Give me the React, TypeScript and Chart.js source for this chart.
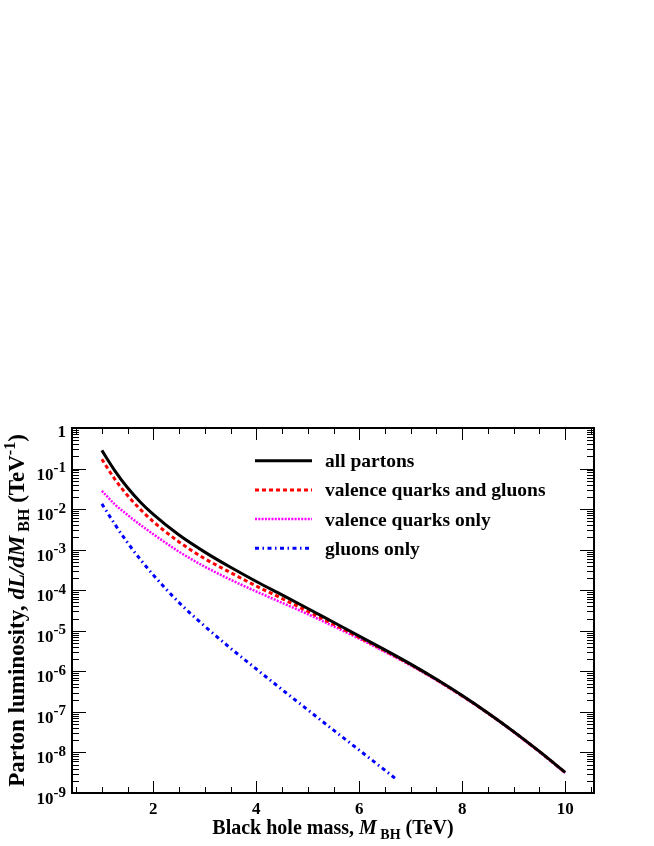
import React, { useEffect, useRef } from 'react';
import { Chart, registerables } from 'chart.js';

Chart.register(...registerables);

// ---- data ----
const massTeV = [1, 1.25, 1.5, 1.75, 2, 2.5, 3, 3.5, 4, 4.5, 5, 5.5, 6, 6.5, 7, 7.5, 8, 8.5, 9, 9.5, 10];
const allPartons = [0.28, 8.9e-2, 3.35e-2, 1.48e-2, 7.4e-3, 2.29e-3, 8.7e-4, 3.67e-4, 1.64e-4, 7.67e-5, 3.55e-5, 1.62e-5, 7.4e-6, 3.39e-6, 1.51e-6, 6.38e-7, 2.54e-7, 9.44e-8, 3.27e-8, 1.06e-8, 3.24e-9];
const valenceQuarksAndGluons = [0.17, 5.5e-2, 2.16e-2, 9.8e-3, 4.9e-3, 1.55e-3, 6.0e-4, 2.72e-4, 1.27e-4, 6.24e-5, 3.02e-5, 1.45e-5, 6.84e-6, 3.2e-6, 1.46e-6, 6.24e-7, 2.48e-7, 9.33e-8, 3.24e-8, 1.05e-8, 3.2e-9];
const valenceQuarksOnly = [2.82e-2, 1.32e-2, 7.16e-3, 4.07e-3, 2.4e-3, 8.9e-4, 3.8e-4, 1.82e-4, 9.3e-5, 4.9e-5, 2.57e-5, 1.29e-5, 6.38e-6, 3.02e-6, 1.4e-6, 6.03e-7, 2.43e-7, 9.12e-8, 3.16e-8, 1.02e-8, 3.13e-9];
const gluonMassTeV = [1, 1.25, 1.5, 1.75, 2, 2.5, 3, 3.5, 4, 4.5, 5, 5.5, 6, 6.5, 6.7];
const gluonsOnly = [1.35e-2, 4.27e-3, 1.48e-3, 5.69e-4, 2.37e-4, 4.95e-5, 1.29e-5, 3.72e-6, 1.14e-6, 3.55e-7, 1.12e-7, 3.55e-8, 1.14e-8, 3.63e-9, 2.29e-9];

const seriesLabels = ['all partons', 'valence quarks and gluons', 'valence quarks only', 'gluons only'];

// ---- axes / ticks ----
const xMin = 0.42;
const xMax = 10.56;
const yMin = 1e-9;
const yMax = 1;
const xMajorTicks = [2, 4, 6, 8, 10];
const xTickLabels = ['2', '4', '6', '8', '10'];
const xMinorTicks = [0.5, 1, 1.5, 2, 2.5, 3, 3.5, 4, 4.5, 5, 5.5, 6, 6.5, 7, 7.5, 8, 8.5, 9, 9.5, 10, 10.5];
const yDecadeExponents = [0, -1, -2, -3, -4, -5, -6, -7, -8, -9];

const FONT_FAMILY = '"Liberation Serif", "Times New Roman", serif';

type Seg = { t: string; size: number; italic?: boolean; dy?: number };

function segFont(s: Seg) {
  return `${s.italic ? 'italic ' : ''}bold ${s.size}px ${FONT_FAMILY}`;
}

function drawSegs(ctx: CanvasRenderingContext2D, segs: Seg[], x: number, y: number, align: 'left' | 'center' | 'right') {
  let w = 0;
  for (const s of segs) {
    ctx.font = segFont(s);
    w += ctx.measureText(s.t).width;
  }
  let cx = align === 'center' ? x - w / 2 : align === 'right' ? x - w : x;
  ctx.textAlign = 'left';
  ctx.textBaseline = 'alphabetic';
  for (const s of segs) {
    ctx.font = segFont(s);
    ctx.fillText(s.t, cx, y + (s.dy || 0));
    cx += ctx.measureText(s.t).width;
  }
}

const rootFrame = {
  id: 'rootFrame',
  afterDraw(chart: any) {
    const { ctx, chartArea: a, scales } = chart;
    const xs = scales.x;
    const ys = scales.y;
    ctx.save();
    ctx.fillStyle = '#000';
    ctx.strokeStyle = '#000';

    // ticks
    ctx.lineWidth = 1;
    const seg = (x1: number, y1: number, x2: number, y2: number) => {
      ctx.beginPath();
      ctx.moveTo(x1, y1);
      ctx.lineTo(x2, y2);
      ctx.stroke();
    };
    for (const v of xMinorTicks) {
      const px = Math.round(xs.getPixelForValue(v)) + 0.5;
      const len = xMajorTicks.includes(v) ? 12 : 6;
      seg(px, a.bottom, px, a.bottom - len);
      seg(px, a.top, px, a.top + len);
    }
    for (const e of yDecadeExponents) {
      for (let m = 1; m <= 9; m++) {
        const v = m * Math.pow(10, e);
        if (v < yMin * 0.999 || v > yMax * 1.001) continue;
        const py = Math.round(ys.getPixelForValue(v)) + 0.5;
        const len = m === 1 ? 14 : 7;
        seg(a.left, py, a.left + len, py);
        seg(a.right, py, a.right - len, py);
      }
    }

    // frame
    ctx.lineWidth = 2;
    ctx.strokeRect(a.left, a.top, a.right - a.left, a.bottom - a.top);

    // y tick labels
    for (const e of yDecadeExponents) {
      const py = ys.getPixelForValue(Math.pow(10, e));
      if (e === 0) {
        drawSegs(ctx, [{ t: '1', size: 17 }], a.left - 6, py + 9, 'right');
      } else {
        drawSegs(ctx, [{ t: '10', size: 17 }, { t: String(e), size: 15, dy: -7.5 }], a.left - 6, py + 11, 'right');
      }
    }
    // x tick labels
    xMajorTicks.forEach((v, i) => {
      const px = xs.getPixelForValue(v);
      drawSegs(ctx, [{ t: xTickLabels[i], size: 17 }], px, a.bottom + 21, 'center');
    });

    // x title
    drawSegs(
      ctx,
      [
        { t: 'Black hole mass, ', size: 20 },
        { t: 'M', size: 20, italic: true },
        { t: ' BH', size: 14, dy: 5 },
        { t: ' (TeV)', size: 20 },
      ],
      (a.left + a.right) / 2,
      a.bottom + 41,
      'center'
    );

    // y title (rotated)
    ctx.save();
    ctx.translate(24, (a.top + a.bottom) / 2);
    ctx.rotate(-Math.PI / 2);
    drawSegs(
      ctx,
      [
        { t: 'Parton luminosity, ', size: 23 },
        { t: 'dL/dM', size: 23, italic: true },
        { t: ' BH', size: 16, dy: 5 },
        { t: ' (TeV', size: 23 },
        { t: '-1', size: 16, dy: -9 },
        { t: ')', size: 23 },
      ],
      0,
      0,
      'center'
    );
    ctx.restore();

    // legend
    chart.data.datasets.forEach((ds: any, i: number) => {
      const y = a.top + 32.7 + i * 29.2;
      ctx.save();
      ctx.strokeStyle = ds.borderColor;
      ctx.lineWidth = ds.borderWidth;
      ctx.setLineDash(ds.borderDash || []);
      ctx.beginPath();
      ctx.moveTo(255, y);
      ctx.lineTo(312, y);
      ctx.stroke();
      ctx.restore();
      drawSegs(ctx, [{ t: ds.label, size: 19.5 }], 325, y + 6.5, 'left');
    });

    ctx.restore();
  },
};

const toPoints = (xs: number[], ys: number[]) => xs.map((x, i) => ({ x, y: ys[i] }));

export default function App() {
  const ref = useRef<HTMLCanvasElement>(null);
  useEffect(() => {
    const chart = new Chart(ref.current as HTMLCanvasElement, {
      type: 'line',
      data: {
        datasets: [
          {
            label: seriesLabels[0],
            data: toPoints(massTeV, allPartons),
            borderColor: '#000000',
            borderWidth: 3,
            borderDash: [],
          },
          {
            label: seriesLabels[1],
            data: toPoints(massTeV, valenceQuarksAndGluons),
            borderColor: '#ff0000',
            borderWidth: 3,
            borderDash: [4, 3],
          },
          {
            label: seriesLabels[2],
            data: toPoints(massTeV, valenceQuarksOnly),
            borderColor: '#ff00ff',
            borderWidth: 2.5,
            borderDash: [2, 1.3],
          },
          {
            label: seriesLabels[3],
            data: toPoints(gluonMassTeV, gluonsOnly),
            borderColor: '#0000ff',
            borderWidth: 3,
            borderDash: [4, 3.5, 1.5, 3.5],
          },
        ] as any,
      },
      options: {
        animation: false,
        responsive: false,
        maintainAspectRatio: false,
        devicePixelRatio: 1,
        events: [],
        layout: { padding: { left: 72, top: 428, right: 60, bottom: 53 } },
        elements: {
          point: { radius: 0 },
          line: { cubicInterpolationMode: 'monotone', fill: false },
        },
        plugins: { legend: { display: false }, tooltip: { enabled: false } },
        scales: {
          x: { type: 'linear', min: xMin, max: xMax, display: false },
          y: { type: 'logarithmic', min: yMin, max: yMax, display: false },
        },
      } as any,
      plugins: [rootFrame],
    });
    return () => chart.destroy();
  }, []);
  return (
    <div style={{ position: 'absolute', left: 0, top: 0, width: 654, height: 846 }}>
      <canvas ref={ref} width={654} height={846} style={{ display: 'block', width: 654, height: 846 }} />
    </div>
  );
}
